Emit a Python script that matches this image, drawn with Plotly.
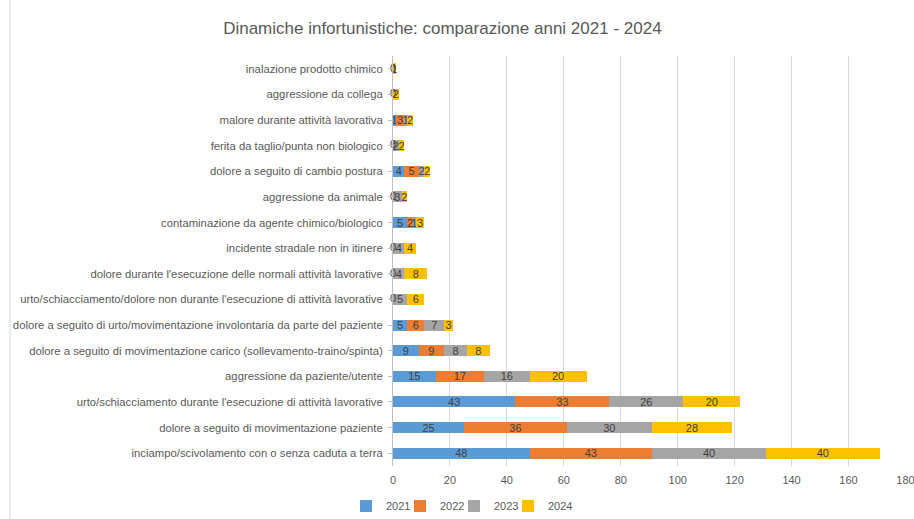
import plotly.graph_objects as go

categories = [
    "inciampo/scivolamento con o senza caduta a terra",
    "dolore a seguito di movimentazione paziente",
    "urto/schiacciamento durante l'esecuzione di attività lavorative",
    "aggressione da paziente/utente",
    "dolore a seguito di movimentazione carico (sollevamento-traino/spinta)",
    "dolore a seguito di urto/movimentazione involontaria da parte del paziente",
    "urto/schiacciamento/dolore non durante l'esecuzione di attività lavorative",
    "dolore durante l'esecuzione delle normali attività lavorative",
    "incidente stradale non in itinere",
    "contaminazione da agente chimico/biologico",
    "aggressione da animale",
    "dolore a seguito di cambio postura",
    "ferita da taglio/punta non biologico",
    "malore durante attività lavorativa",
    "aggressione da collega",
    "inalazione prodotto chimico",
]
v2021 = [48, 25, 43, 15, 9, 5, 0, 0, 0, 5, 0, 4, 0, 1, 0, 0]
v2022 = [43, 36, 33, 17, 9, 6, None, None, None, 2, None, 5, None, 3, None, None]
v2023 = [40, 30, 26, 16, 8, 7, 5, 4, 4, 1, 3, 2, 2, 1, None, None]
v2024 = [40, 28, 20, 20, 8, 3, 6, 8, 4, 3, 2, 2, 2, 2, 2, 1]

years = ["2021", "2022", "2023", "2024"]
series = [v2021, v2022, v2023, v2024]
colors = ["#5B9BD5", "#ED7D31", "#A5A5A5", "#FFC000"]

FONT = "Liberation Sans"
legend_names = ["legend", "legend2", "legend3", "legend4"]
legend_x = [346, 400, 454, 508]

fig = go.Figure()
for name, vals, col, lg in zip(years, series, colors, legend_names):
    txt = ["" if (v is None or v == 0) else str(v) for v in vals]
    fig.add_trace(go.Bar(
        y=categories, x=[0 if v is None else v for v in vals], name=name,
        orientation="h", marker=dict(color=col, line=dict(width=0)),
        text=txt, textposition="inside", insidetextanchor="middle",
        constraintext="none", textangle=0, cliponaxis=False,
        textfont=dict(color="#404040", size=11, family=FONT),
        hoverinfo="x+name", legend=lg,
    ))

# labels for zero values
zero_y = [c for c, v in zip(categories, v2021) if v == 0]
fig.add_trace(go.Scatter(
    y=zero_y, x=[0] * len(zero_y), mode="text", text=["0"] * len(zero_y),
    textfont=dict(color="#404040", size=11, family=FONT),
    showlegend=False, hoverinfo="skip", cliponaxis=False,
))

legend_layout = {}
for lg, lx in zip(legend_names, legend_x):
    legend_layout[lg] = dict(
        orientation="h", x=lx / 914, xanchor="left", y=0.025, yanchor="middle",
        xref="container", yref="container", itemwidth=30,
        font=dict(size=11, color="#595959", family=FONT), bgcolor="rgba(0,0,0,0)")

fig.update_layout(
    barmode="stack",
    bargap=0.57,
    width=914, height=519,
    margin=dict(l=393, r=8, t=56, b=53, autoexpand=False),
    paper_bgcolor="white", plot_bgcolor="white",
    title=dict(text="Dinamiche infortunistiche: comparazione anni 2021 - 2024",
               x=0.484, xref="container", xanchor="center", y=0.945, yanchor="middle",
               font=dict(size=17, color="#595959", family=FONT)),
    xaxis=dict(range=[0, 180.2], dtick=20, showgrid=True, gridcolor="#D9D9D9",
               zeroline=False, showline=False, ticks="", automargin=False,
               ticklabelstandoff=6, ticklabeloverflow="allow",
               tickfont=dict(size=11, color="#595959", family=FONT)),
    yaxis=dict(categoryorder="array", categoryarray=categories, showline=True,
               range=[-0.5, 15.5],
               linecolor="#BFBFBF", ticks="outside", ticklen=4, tickcolor="#BFBFBF",
               automargin=False, ticklabelstandoff=3,
               tickfont=dict(size=11.3, color="#595959", family=FONT)),
    shapes=[dict(type="rect", xref="paper", yref="paper", x0=-383/513, x1=1+20/513,
                 y0=-60/410, y1=1+60/410, line=dict(color="#D9D9D9", width=1),
                 layer="below")],
    **legend_layout,
)
fig.write_html("out.html")
